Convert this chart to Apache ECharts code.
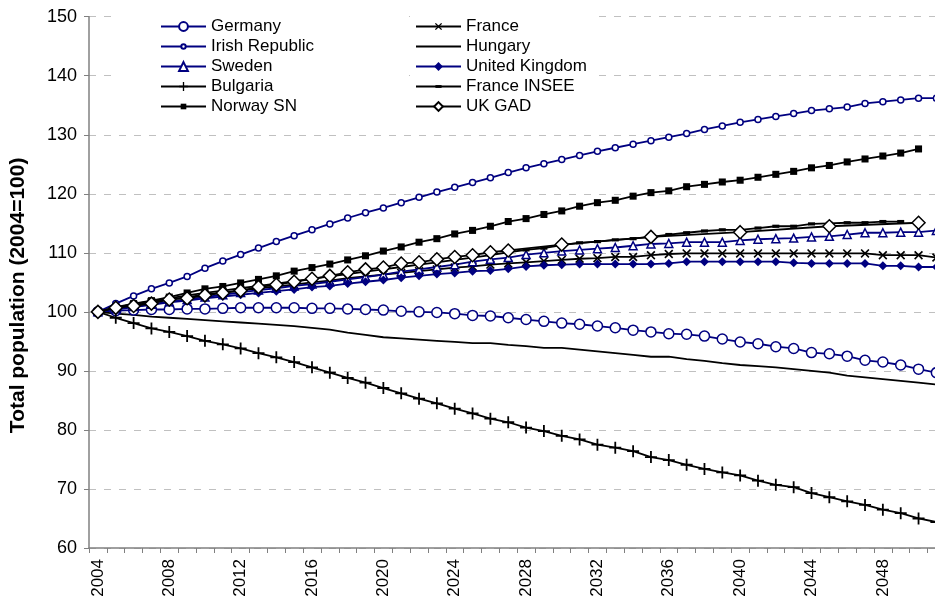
<!DOCTYPE html>
<html>
<head>
<meta charset="utf-8">
<script src="https://cdn.jsdelivr.net/npm/echarts@6/dist/echarts.min.js"></script>
<style>
html,body{margin:0;padding:0;background:#fff;}
#chart{width:935px;height:604px;}
</style>
</head>
<body>
<div id="chart"></div>
<script>
var years = ['2004','2005','2006','2007','2008','2009','2010','2011','2012','2013','2014','2015','2016','2017','2018','2019','2020','2021','2022','2023','2024','2025','2026','2027','2028','2029','2030','2031','2032','2033','2034','2035','2036','2037','2038','2039','2040','2041','2042','2043','2044','2045','2046','2047','2048','2049','2050','2051'];

var germany = [100,100.2,100.3,100.4,100.4,100.5,100.5,100.6,100.7,100.7,100.7,100.7,100.6,100.6,100.5,100.4,100.3,100.1,100.0,99.9,99.7,99.4,99.3,99.0,98.7,98.4,98.1,97.9,97.6,97.3,96.9,96.6,96.3,96.2,95.9,95.4,94.9,94.6,94.1,93.8,93.1,92.9,92.5,91.8,91.5,91.0,90.3,89.7];
var france = [100,100.6,101.1,101.6,102.1,102.5,102.9,103.3,103.6,104.0,104.3,104.6,105.0,105.3,105.7,106.0,106.3,106.6,106.9,107.2,107.5,107.7,108.0,108.2,108.4,108.6,108.8,109.0,109.1,109.3,109.3,109.6,109.8,109.9,109.9,109.9,109.9,109.9,109.9,109.9,109.9,109.9,109.9,109.9,109.6,109.6,109.6,109.2];
var irish = [100,101.4,102.7,103.9,104.9,106.0,107.4,108.6,109.7,110.8,111.9,112.9,113.9,114.9,115.9,116.8,117.6,118.5,119.4,120.3,121.1,121.9,122.7,123.6,124.4,125.1,125.8,126.5,127.2,127.8,128.4,129.0,129.6,130.2,130.9,131.5,132.1,132.6,133.1,133.6,134.1,134.4,134.7,135.3,135.6,135.9,136.2,136.2];
var hungary = [100,99.7,99.5,99.2,99.0,98.8,98.6,98.4,98.2,98.0,97.8,97.6,97.3,97.0,96.5,96.1,95.7,95.5,95.3,95.1,94.9,94.7,94.7,94.4,94.2,93.9,93.9,93.6,93.3,93.0,92.7,92.4,92.4,92.0,91.7,91.3,91.0,90.8,90.6,90.3,90.0,89.7,89.2,88.9,88.6,88.3,88.0,87.7];
var sweden = [100,100.5,100.9,101.3,101.7,102.1,102.5,102.9,103.3,103.7,104.0,104.4,104.7,105.1,105.5,105.9,106.3,106.8,107.2,107.6,108.0,108.5,108.9,109.2,109.7,110.0,110.3,110.5,110.7,110.9,111.2,111.5,111.6,111.8,111.8,111.8,112.1,112.3,112.4,112.5,112.7,112.8,113.1,113.4,113.4,113.5,113.5,113.8];
var uk = [100,100.4,100.8,101.2,101.6,101.9,102.3,102.6,102.9,103.2,103.5,103.8,104.2,104.4,104.8,105.1,105.4,105.8,106.1,106.4,106.6,106.9,107.0,107.3,107.7,107.9,108.0,108.1,108.1,108.1,108.1,108.1,108.2,108.5,108.5,108.5,108.5,108.5,108.5,108.3,108.2,108.2,108.2,108.2,107.8,107.8,107.6,107.6];
var bulgaria = [100,99.0,98.1,97.2,96.6,95.9,95.1,94.5,93.8,93.0,92.3,91.5,90.6,89.7,88.8,88.0,87.1,86.2,85.3,84.5,83.6,82.8,81.9,81.3,80.4,79.8,79.0,78.4,77.5,77.0,76.4,75.4,74.9,74.1,73.4,72.8,72.3,71.4,70.7,70.3,69.3,68.6,67.9,67.3,66.5,65.9,65.0,64.4];
var franceInsee = [100,100.7,101.3,101.8,102.3,102.8,103.2,103.6,104.0,104.4,104.8,105.2,105.6,106.0,106.4,106.8,107.2,107.6,108.0,108.4,108.8,109.2,109.6,110.1,110.5,110.8,111.3,111.7,111.9,112.2,112.4,112.7,113.1,113.4,113.7,113.9,113.9,114.2,114.5,114.5,114.9,115.0,115.1,115.1,115.3,115.3,null,null];
var norway = [100,100.8,101.4,101.9,102.5,103.2,103.9,104.3,104.9,105.5,106.1,106.9,107.5,108.1,108.8,109.5,110.3,111.0,111.8,112.4,113.2,113.8,114.5,115.3,115.8,116.5,117.1,117.9,118.5,118.9,119.6,120.2,120.5,121.2,121.6,122.0,122.3,122.8,123.3,123.8,124.4,124.8,125.4,125.9,126.4,126.9,127.6,null];
var ukGad = [100,100.7,101.0,101.4,102.1,102.3,102.8,103.2,103.6,104.2,104.6,105.1,105.6,106.1,106.7,107.2,107.5,108.2,108.4,108.9,109.3,109.6,110.1,110.4,null,null,111.4,null,null,null,null,112.7,null,null,null,null,113.5,null,null,null,null,114.5,null,null,null,null,115.1,null];

var yTicks = {min:60, max:150, step:10};

var NAVY = '#000080';
var BLACK = '#000000';
var PLUS = 'path://M4.25,0h1.5v4.25h4.25v1.5h-4.25v4.25h-1.5v-4.25h-4.25v-1.5h4.25z';
var SMALL_CIRCLE = 'path://M0,0M12,12M3,6a3,3 0 1,0 6,0a3,3 0 1,0 -6,0z';
var DASH = 'path://M0,0M10,10M1.5,3.4h7v3.2h-7z';
var SQUARE = 'path://M0,0M10,10M1.8,1.8h6.4v6.4h-6.4z';

function mk(name, data, opts){
  return {
    name: name, type: 'line', data: data,
    showSymbol: !opts.noSymbol, showAllSymbol: true,
    symbol: opts.symbol, symbolSize: opts.size,
    symbolRotate: opts.rotate || 0,
    connectNulls: true,
    lineStyle: {color: opts.color, width: 1.8},
    itemStyle: {color: opts.fill, borderColor: opts.color, borderWidth: opts.bw === undefined ? 1.5 : opts.bw},
    emphasis: {disabled: true},
    z: opts.z || 2
  };
}

var series = [
  mk('Germany', germany, {symbol:'circle', size:10, color:NAVY, fill:'#fff'}),
  mk('France', france, {symbol:PLUS, size:11, rotate:45, color:BLACK, fill:BLACK, bw:0}),
  mk('Irish Republic', irish, {symbol:SMALL_CIRCLE, size:12, color:NAVY, fill:'#fff'}),
  mk('Hungary', hungary, {symbol:'circle', size:0, noSymbol:true, color:BLACK, fill:BLACK}),
  mk('Sweden', sweden, {symbol:'triangle', size:8, color:NAVY, fill:'#fff'}),
  mk('United Kingdom', uk, {symbol:'diamond', size:9, color:NAVY, fill:NAVY, bw:0}),
  mk('Bulgaria', bulgaria, {symbol:PLUS, size:12, color:BLACK, fill:BLACK, bw:0}),
  mk('France INSEE', franceInsee, {symbol:DASH, size:10, color:BLACK, fill:BLACK, bw:0}),
  mk('Norway SN', norway, {symbol:SQUARE, size:11, color:BLACK, fill:BLACK, bw:0}),
  mk('UK GAD', ukGad, {symbol:'diamond', size:13, color:BLACK, fill:'#fff', z:3})
];

var legendText = {fontFamily:'Liberation Sans, Arial, sans-serif', fontSize:17, color:'#000', lineHeight:17};

var option = {
  animation: false,
  backgroundColor: '#fff',
  grid: {left:89, top:16.7, bottom:56, right:-10.3, containLabel:false, outerBoundsMode:'none'},
  legend: [
    {data:['Germany','Irish Republic','Sweden','Bulgaria','Norway SN'], orient:'vertical', left:118, top:14,
     padding:[4,95,4,42], itemGap:3, itemWidth:45, itemHeight:11, backgroundColor:'#fff', textStyle:legendText, selectedMode:false, z:10},
    {data:['France',{name:'Hungary', itemStyle:{color:'rgba(0,0,0,0)', borderWidth:0, opacity:0}},'United Kingdom','France INSEE','UK GAD'], orient:'vertical', left:410, top:14,
     padding:[4,10,4,5], itemGap:3, itemWidth:45, itemHeight:11, backgroundColor:'#fff', textStyle:legendText, selectedMode:false, z:11}
  ],
  xAxis: {
    type:'category', data: years, boundaryGap:true,
    axisLine:{lineStyle:{color:'#808080', width:1.5}},
    axisTick:{show:true, interval:0, length:5, lineStyle:{color:'#808080'}},
    axisLabel:{interval:3, rotate:90, margin:11, fontFamily:'Liberation Sans, Arial, sans-serif', fontSize:17, color:'#000'},
    splitLine:{show:false}
  },
  yAxis: {
    type:'value', min:yTicks.min, max:yTicks.max, interval:yTicks.step,
    name:'Total population (2004=100)', nameLocation:'middle', nameRotate:90, nameGap:60,
    nameTextStyle:{fontFamily:'Liberation Sans, Arial, sans-serif', fontSize:21, fontWeight:'bold', color:'#000', padding:[0,26,0,0]},
    axisLine:{show:true, lineStyle:{color:'#808080', width:1.5}},
    axisTick:{show:true, length:5, lineStyle:{color:'#808080'}},
    axisLabel:{margin:12, fontFamily:'Liberation Sans, Arial, sans-serif', fontSize:18, color:'#000'},
    splitLine:{show:true, lineStyle:{color:'#c0c0c0', width:1, type:[7,8]}}
  },
  series: series
};

var chart = echarts.init(document.getElementById('chart'), null, {renderer:'canvas'});
chart.setOption(option);
</script>
</body>
</html>
